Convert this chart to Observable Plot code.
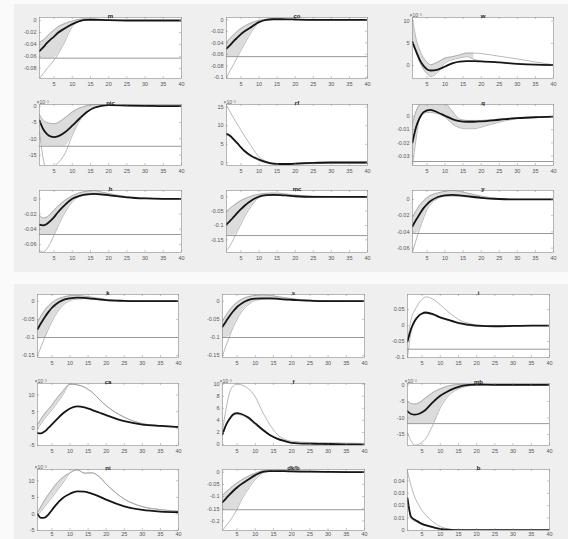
<!DOCTYPE html>
<html>
<head>
<meta charset="utf-8">
<script src="https://cdn.jsdelivr.net/npm/d3@7"></script>
<script src="https://cdn.jsdelivr.net/npm/@observablehq/plot@0.6"></script>
<style>
  html, body { margin: 0; padding: 0; background: #fafafa; }
  #root { position: relative; width: 568px; height: 539px; overflow: hidden; background: #fafafa; }
  .blk { position: absolute; background: #efefef; }
  .pn { position: absolute; }
</style>
</head>
<body>
<div id="root">
  <div class="blk" style="left:14px;top:4px;width:554px;height:268px"></div>
  <div class="blk" style="left:14px;top:284px;width:554px;height:255px"></div>
</div>
<script>
// ---- data (horizons and impulse responses: mean, upper, lower) ----
const T = [1,2,3,4,5,6,8,10,12,14,16,18,20,25,30,35,40];
const xTicks = [5,10,15,20,25,30,35,40];

const m_mean = [-0.051,-0.045,-0.038,-0.032,-0.027,-0.021,-0.013,-0.006,-0.001,0.001,0.0012,0.001,0.0005,0,0,0,0];
const m_hi   = [-0.036,-0.033,-0.027,-0.021,-0.016,-0.011,-0.005,-0.001,0.002,0.003,0.002,0.001,0.0005,0,0,0,0];
const m_lo   = [-0.097,-0.089,-0.081,-0.074,-0.066,-0.057,-0.035,-0.01,-0.001,0.001,0.001,0.0008,0.0004,0,0,0,0];

const co_mean = [-0.05,-0.044,-0.037,-0.031,-0.025,-0.02,-0.012,-0.004,0,0.001,0.001,0.0008,0.0005,0,0,0,0];
const co_hi   = [-0.04,-0.032,-0.026,-0.02,-0.015,-0.011,-0.005,-0.001,0.001,0.002,0.0015,0.001,0.0005,0,0,0,0];
const co_lo   = [-0.1,-0.088,-0.077,-0.065,-0.053,-0.042,-0.02,-0.004,0,0.001,0.001,0.0008,0.0005,0,0,0,0];

const w_mean = [5.3,3.2,1.3,0.0,-0.8,-1.1,-0.9,-0.2,0.5,0.9,1.0,1.0,0.95,0.7,0.4,0.2,0.1];
const w_hi   = [10.5,6.0,3.5,1.8,0.8,0.2,0.8,1.7,2.0,2.4,2.8,2.8,2.7,2.1,1.5,0.8,0.2];
const w_lo   = [5.0,3.0,0.8,-0.8,-1.8,-2.5,-1.5,0.6,1.3,1.7,2.0,1.4,1.0,0.7,0.4,0.2,0.1];

const pic_mean = [-4.4,-7.0,-8.5,-9.3,-9.5,-9.3,-8.0,-6.0,-3.8,-1.8,-0.5,0.1,0.3,0.2,0.1,0,0];
const pic_hi   = [-2.6,-4.3,-5.0,-5.3,-5.4,-5.1,-3.6,-1.8,-0.6,0.1,0.5,0.5,0.4,0.2,0.1,0,0];
const pic_lo   = [-8,-16,-20,-19.5,-18.5,-17.5,-14.5,-9,-4.5,-2.0,-0.5,0.1,0.3,0.2,0.1,0,0];

const rf_mean = [7.8,7.3,6.3,5.3,4.2,3.2,1.8,0.9,0.2,-0.2,-0.3,-0.3,-0.2,0,0.1,0.1,0.1];
const rf_hi   = [15.3,13.7,12.0,10.4,8.8,7.2,4.3,1.6,0.4,-0.2,-0.3,-0.2,-0.1,0.1,0.2,0.2,0.2];
const rf_lo   = [7.5,7.0,6.0,5.0,4.0,3.0,1.6,0.6,0,-0.4,-0.5,-0.5,-0.4,-0.2,-0.1,-0.1,-0.1];

const q_mean = [-0.0195,-0.008,-0.001,0.003,0.0045,0.005,0.003,0.0005,-0.002,-0.0035,-0.004,-0.004,-0.0037,-0.0025,-0.0013,-0.0006,-0.0002];
const q_hi   = [-0.0055,0.004,0.009,0.011,0.012,0.012,0.011,0.010,0.004,-0.002,-0.003,-0.003,-0.003,-0.002,-0.001,-0.0005,0];
const q_lo   = [-0.037,-0.017,-0.001,0.002,0.003,0.003,0.002,-0.0005,-0.0055,-0.0085,-0.0093,-0.0093,-0.0081,-0.0043,-0.0017,-0.0008,-0.0003];

const h_mean = [-0.034,-0.035,-0.033,-0.029,-0.024,-0.018,-0.008,0,0.004,0.006,0.0065,0.006,0.005,0.002,0.0005,0,0];
const h_hi   = [-0.022,-0.025,-0.024,-0.02,-0.015,-0.01,-0.002,0.004,0.008,0.010,0.011,0.009,0.007,0.003,0.001,0,0];
const h_lo   = [-0.068,-0.07,-0.066,-0.058,-0.048,-0.037,-0.018,-0.004,0.003,0.005,0.006,0.005,0.004,0.002,0.0005,0,0];

const mc_mean = [-0.096,-0.084,-0.07,-0.056,-0.043,-0.031,-0.012,0.001,0.006,0.007,0.006,0.004,0.002,0,0,0,0];
const mc_hi   = [-0.052,-0.04,-0.03,-0.021,-0.013,-0.007,0.003,0.009,0.012,0.013,0.012,0.009,0.006,0.002,0.001,0,0];
const mc_lo   = [-0.187,-0.17,-0.145,-0.12,-0.095,-0.07,-0.03,-0.002,0.004,0.005,0.005,0.004,0.002,0,0,0,0];

const y_mean = [-0.033,-0.025,-0.018,-0.011,-0.006,-0.002,0.003,0.005,0.0055,0.005,0.004,0.003,0.002,0.0005,0,0,0];
const y_hi   = [-0.022,-0.014,-0.007,-0.002,0.002,0.005,0.008,0.010,0.011,0.010,0.008,0.006,0.004,0.001,0,0,0];
const y_lo   = [-0.065,-0.05,-0.036,-0.024,-0.013,-0.006,0.001,0.004,0.004,0.004,0.003,0.002,0.0015,0.0005,0,0,0];

const k_mean = [-0.077,-0.06,-0.044,-0.03,-0.018,-0.009,0.003,0.008,0.01,0.009,0.007,0.005,0.003,0.001,0,0,0];
const k_hi   = [-0.058,-0.04,-0.025,-0.013,-0.004,0.003,0.011,0.015,0.016,0.014,0.011,0.008,0.005,0.002,0,0,0];
const k_lo   = [-0.15,-0.125,-0.1,-0.077,-0.056,-0.038,-0.012,0.002,0.006,0.007,0.006,0.004,0.002,0,0,0,0];

const s_mean = [-0.07,-0.055,-0.04,-0.027,-0.016,-0.008,0.003,0.007,0.008,0.008,0.007,0.005,0.004,0.0015,0,0,0];
const s_hi   = [-0.055,-0.038,-0.024,-0.012,-0.003,0.004,0.012,0.016,0.017,0.016,0.013,0.01,0.007,0.003,0.001,0,0];
const s_lo   = [-0.15,-0.122,-0.095,-0.07,-0.05,-0.033,-0.01,0.002,0.005,0.006,0.005,0.004,0.003,0.001,0,0,0];

const i_mean = [-0.05,-0.01,0.015,0.03,0.038,0.041,0.036,0.026,0.019,0.012,0.006,0.002,0,-0.002,-0.001,0,0];
const i_hi   = [-0.05,0.02,0.048,0.068,0.082,0.09,0.083,0.065,0.045,0.027,0.013,0.007,0.002,-0.001,0,0,0];
const i_lo   = [-0.1,-0.02,0.01,0.028,0.036,0.038,0.033,0.024,0.017,0.01,0.004,0,-0.002,-0.003,-0.001,0,0];

const ca_mean = [-1.3,-1.4,-0.8,0.2,1.3,2.4,4.5,6.0,6.6,6.3,5.6,4.8,4.0,2.2,1.2,0.8,0.5];
const ca_hi   = [1.2,2.9,4.5,5.7,7.0,8.5,11.1,13.2,13.0,12.3,10.9,8.8,6.8,3.4,1.5,0.9,0.5];
const ca_lo   = [0,1.5,3.0,4.3,5.6,7.0,10.0,13.2,13.0,12.3,10.9,8.8,6.8,3.4,1.5,0.9,0.5];

const f_mean = [1.7,3.3,4.3,5.0,5.2,5.1,4.5,3.5,2.5,1.6,1.0,0.6,0.3,0.15,0.1,0.05,0];
const f_hi   = [2.2,6.0,8.7,9.7,10.0,9.9,9.3,7.9,5.4,3.3,1.7,0.9,0.55,0.35,0.3,0.25,0.2];
const f_lo   = [1.6,3.1,4.1,4.8,5.0,4.9,4.3,3.3,2.3,1.5,0.9,0.5,0.3,0.1,0.05,0,0];

const mb_mean = [-8.0,-8.8,-9.0,-8.8,-8.3,-7.5,-5.2,-3.3,-2.0,-1.0,-0.3,0,0.1,0,0,0,0];
const mb_hi   = [-5.0,-5.6,-5.8,-5.5,-4.8,-3.9,-2.3,-1.2,-0.4,0,0.1,0.1,0.05,0,0,0,0];
const mb_lo   = [-14.5,-17.0,-18.2,-18.0,-17.3,-16.3,-12.0,-7.0,-3.6,-1.8,-0.8,-0.3,-0.1,0,0,0,0];

const ni_mean = [0,-1.2,-1.1,-0.2,1.2,2.6,4.8,6.1,6.8,6.7,6.1,5.3,4.3,2.3,1.2,0.7,0.5];
const ni_hi   = [0.5,2.3,4.2,5.8,7.3,8.8,11.0,12.4,13.3,12.3,12.4,11.3,9.0,4.5,2.2,1.3,0.8];
const ni_lo   = [-0.2,0.8,2.2,3.6,5.0,6.4,9.3,12.4,13.3,12.3,12.4,11.3,9.0,4.5,2.2,1.3,0.8];

const dkb_mean = [-0.123,-0.107,-0.091,-0.076,-0.063,-0.051,-0.031,-0.012,0.001,0.004,0.004,0.004,0.003,0.002,0.001,0.0005,0];
const dkb_hi   = [-0.095,-0.08,-0.068,-0.055,-0.044,-0.034,-0.017,-0.004,0.006,0.009,0.009,0.008,0.006,0.004,0.002,0.001,0];
const dkb_lo   = [-0.238,-0.22,-0.2,-0.178,-0.152,-0.12,-0.07,-0.03,-0.004,0.003,0.003,0.003,0.002,0.001,0.0005,0,0];

const b_mean = [0.026,0.0107,0.0085,0.0068,0.0052,0.0042,0.0025,0.0011,0.0004,0.0001,0,0,0,0,0,0,0];
const b_hi   = [0.048,0.036,0.027,0.021,0.016,0.0125,0.0068,0.003,0.0012,0.0005,0.0002,0,0,0,0,0,0];
const b_lo   = [0.024,0.0095,0.0075,0.006,0.0045,0.0036,0.002,0.0008,0.0002,0,0,0,0,0,0,0,0];

// ---- panel layout (box pixel edges), axes and reference lines ----
const colsTop = [[39,181],[226,367],[412,553]];
const colsBot = [[37,178],[222,364],[407,549]];
const rowsTop = [[17,78],[104,165],[190,252]];
const rowsBot = [[294,357],[383,445],[469,530]];

const panels = [
  {title:"m",   mean:m_mean,   hi:m_hi,   lo:m_lo,   dom:[-0.097,0.005], yt:[0,-0.02,-0.04,-0.06,-0.08], hl:-0.063, fillTo:40, c:colsTop[0], r:rowsTop[0]},
  {title:"co",  mean:co_mean,  hi:co_hi,  lo:co_lo,  dom:[-0.102,0.004], yt:[0,-0.02,-0.04,-0.06,-0.08,-0.1], hl:-0.064, fillTo:40, c:colsTop[1], r:rowsTop[0]},
  {title:"w",   mean:w_mean,   hi:w_hi,   lo:w_lo,   dom:[-2.9,10.8], yt:[0,5,10], hl:null, exp:true, fillTo:18, c:colsTop[2], r:rowsTop[0]},
  {title:"pic", mean:pic_mean, hi:pic_hi, lo:pic_lo, dom:[-18.2,0.5], yt:[0,-5,-10,-15], hl:-12.3, exp:true, fillTo:40, c:colsTop[0], r:rowsTop[1]},
  {title:"rf",  mean:rf_mean,  hi:rf_hi,  lo:rf_lo,  dom:[-0.7,15.7], yt:[0,5,10,15], hl:null, exp:true, fillTo:0, c:colsTop[1], r:rowsTop[1]},
  {title:"q",   mean:q_mean,   hi:q_hi,   lo:q_lo,   dom:[-0.037,0.009], yt:[0,-0.01,-0.02,-0.03], hl:-0.034, fillTo:40, c:colsTop[2], r:rowsTop[1]},
  {title:"h",   mean:h_mean,   hi:h_hi,   lo:h_lo,   dom:[-0.0707,0.011], yt:[0,-0.02,-0.04,-0.06], hl:-0.047, fillTo:40, c:colsTop[0], r:rowsTop[2]},
  {title:"mc",  mean:mc_mean,  hi:mc_hi,  lo:mc_lo,  dom:[-0.194,0.022], yt:[0,-0.05,-0.1,-0.15], hl:-0.135, fillTo:40, c:colsTop[1], r:rowsTop[2]},
  {title:"y",   mean:y_mean,   hi:y_hi,   lo:y_lo,   dom:[-0.0654,0.011], yt:[0,-0.02,-0.04,-0.06], hl:-0.042, fillTo:40, c:colsTop[2], r:rowsTop[2]},
  {title:"k",   mean:k_mean,   hi:k_hi,   lo:k_lo,   dom:[-0.155,0.0185], yt:[0,-0.05,-0.1,-0.15], hl:-0.1, fillTo:40, c:colsBot[0], r:rowsBot[0]},
  {title:"s",   mean:s_mean,   hi:s_hi,   lo:s_lo,   dom:[-0.155,0.0185], yt:[0,-0.05,-0.1,-0.15], hl:-0.1, fillTo:40, c:colsBot[1], r:rowsBot[0]},
  {title:"i",   mean:i_mean,   hi:i_hi,   lo:i_lo,   dom:[-0.1,0.0975], yt:[0.05,0,-0.05,-0.1], hl:-0.074, fillTo:0, c:colsBot[2], r:rowsBot[0]},
  {title:"ca",  mean:ca_mean,  hi:ca_hi,  lo:ca_lo,  dom:[-5,13.4], yt:[-5,0,5,10], hl:null, exp:true, fillTo:40, c:colsBot[0], r:rowsBot[1]},
  {title:"f",   mean:f_mean,   hi:f_hi,   lo:f_lo,   dom:[-0.15,10.1], yt:[0,2,4,6,8,10], hl:null, exp:true, fillTo:0, c:colsBot[1], r:rowsBot[1]},
  {title:"mb",  mean:mb_mean,  hi:mb_hi,  lo:mb_lo,  dom:[-18.3,0.4], yt:[0,-5,-10,-15], hl:-11.7, exp:true, fillTo:40, c:colsBot[2], r:rowsBot[1]},
  {title:"ni",  mean:ni_mean,  hi:ni_hi,  lo:ni_lo,  dom:[-5,13.4], yt:[-5,0,5,10], hl:null, exp:true, fillTo:40, c:colsBot[0], r:rowsBot[2], last:true},
  {title:"dk/b",mean:dkb_mean, hi:dkb_hi, lo:dkb_lo, dom:[-0.239,0.011], yt:[0,-0.05,-0.1,-0.15,-0.2], hl:-0.154, fillTo:40, c:colsBot[1], r:rowsBot[2], last:true},
  {title:"b",   mean:b_mean,   hi:b_hi,   lo:b_lo,   dom:[-0.0002,0.0494], yt:[0,0.01,0.02,0.03,0.04], hl:null, fillTo:0, c:colsBot[2], r:rowsBot[2], last:true}
];

const FONT = "'Liberation Sans', Arial, sans-serif";
const fmt = v => String(+(+v).toPrecision(6));
const root = document.getElementById("root");

for (const p of panels) {
  const W = p.c[1] - p.c[0], H = p.r[1] - p.r[0];
  const mL = 32, mR = 6, mT = 12, mB = p.last ? 9 : 12;
  const rows = T.map((t, i) => ({t, mean: p.mean[i], hi: p.hi[i], lo: p.lo[i]}));
  const fillRows = rows.filter(d => d.t <= p.fillTo);
  const bottomOf = d => p.hl == null ? d.lo : Math.max(d.lo, p.hl);
  const curve = "monotone-x";
  const gridC = "#8a8a8a";
  const marks = [
    Plot.frame({fill: "white", stroke: "none"}),
    fillRows.length ? Plot.areaY(fillRows, {x: "t", y1: bottomOf, y2: "hi", fill: "#dcdcdc", curve, clip: true}) : null,
    p.hl == null ? null : Plot.ruleY([p.hl], {stroke: "#8c8c8c", strokeWidth: 0.9, clip: true}),
    Plot.lineY(rows, {x: "t", y: "hi", stroke: "#9a9a9a", strokeWidth: 0.7, curve, clip: true}),
    Plot.lineY(rows, {x: "t", y: "lo", stroke: "#9a9a9a", strokeWidth: 0.7, curve, clip: true}),
    Plot.lineY(rows, {x: "t", y: "mean", stroke: "#151515", strokeWidth: 1.8, curve, clip: true}),
    Plot.frame({stroke: gridC, strokeWidth: 0.6}),
    Plot.tickX(xTicks, {x: d => d, insetTop: H - 2, stroke: gridC, strokeWidth: 0.5}),
    Plot.tickX(xTicks, {x: d => d, insetBottom: H - 2, stroke: gridC, strokeWidth: 0.5}),
    Plot.tickY(p.yt, {y: d => d, insetRight: W - 2, stroke: gridC, strokeWidth: 0.5}),
    Plot.tickY(p.yt, {y: d => d, insetLeft: W - 2, stroke: gridC, strokeWidth: 0.5}),
    Plot.axisX(xTicks, {tickSize: 0, tickPadding: p.last ? 2 : 3.5, tickFormat: fmt, fontSize: 5.5, fill: "#555"}),
    Plot.axisY(p.yt, {tickSize: 0, tickPadding: 3, tickFormat: fmt, fontSize: 5.5, fill: "#555"}),
    Plot.text([p.title], {frameAnchor: "top", dy: -4, fontSize: 6, fontWeight: "bold", fill: "#222"}),
    p.exp ? Plot.text(["×10⁻³"], {frameAnchor: "top-left", textAnchor: "start", dx: -3, dy: -4, fontSize: 5, fill: "#555"}) : null
  ].filter(Boolean);

  const chart = Plot.plot({
    width: W + mL + mR, height: H + mT + mB,
    marginLeft: mL, marginRight: mR, marginTop: mT, marginBottom: mB,
    style: {background: "transparent", fontFamily: FONT, fontSize: "5.5px", color: "#555", overflow: "visible"},
    x: {domain: [1, 40], label: null},
    y: {domain: p.dom, label: null},
    marks
  });
  const div = document.createElement("div");
  div.className = "pn";
  div.style.left = (p.c[0] - mL) + "px";
  div.style.top = (p.r[0] - mT) + "px";
  div.appendChild(chart);
  root.appendChild(div);
}
</script>
</body>
</html>
